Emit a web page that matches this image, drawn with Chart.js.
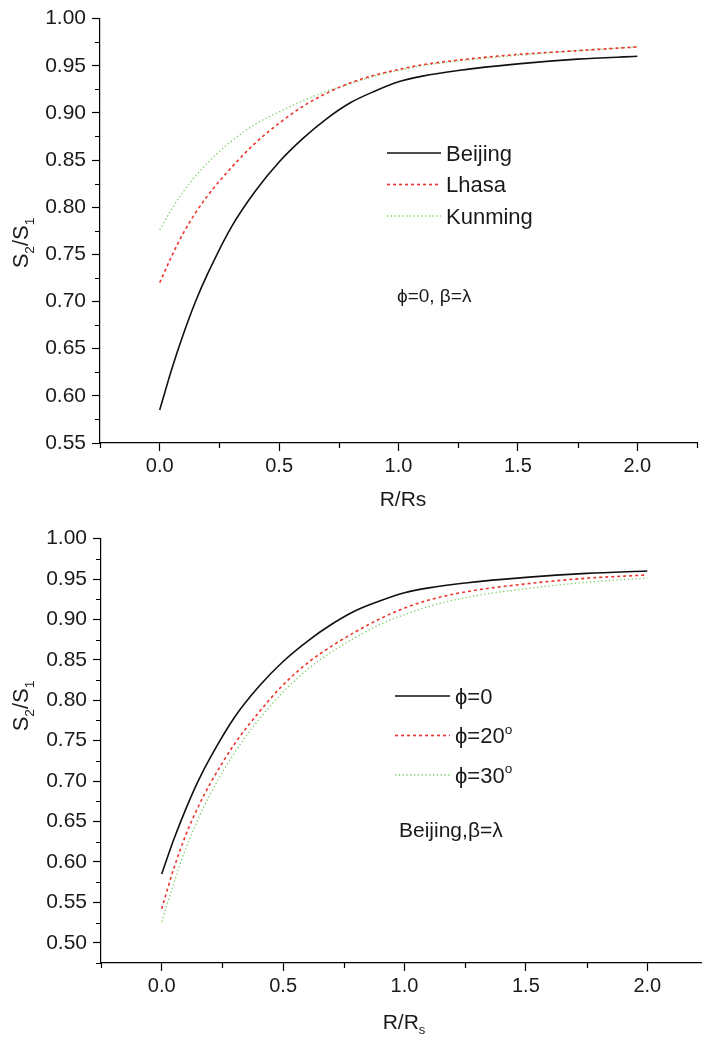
<!DOCTYPE html>
<html>
<head>
<meta charset="utf-8">
<script src="https://cdn.jsdelivr.net/npm/chart.js@4.4.0/dist/chart.umd.min.js"></script>
<style>
    html, body { margin: 0; padding: 0; background: #fff; overflow: hidden; width: 702px; height: 1038px; }
    #top-chart { position: absolute; left: 0; top: 0; }
    #bottom-chart { position: absolute; left: 0; top: 520px; }
</style>
</head>
<body>
<canvas id="top-chart" width="702" height="520"></canvas>
<canvas id="bottom-chart" width="712" height="518"></canvas>
<script>
// R/Rs sample positions
const xValues = [0, 0.05, 0.1, 0.15, 0.2, 0.3, 0.4, 0.5, 0.6, 0.7, 0.8, 0.9, 1.0, 1.1, 1.25, 1.5, 1.75, 2.0];

// top panel: phi=0, beta=lambda
const beijing = [0.585, 0.628, 0.666, 0.700, 0.729, 0.779, 0.817, 0.848, 0.873, 0.894, 0.911, 0.923, 0.933, 0.939, 0.945, 0.952, 0.957, 0.960];
const lhasa   = [0.720, 0.748, 0.773, 0.794, 0.812, 0.842, 0.868, 0.889, 0.907, 0.921, 0.932, 0.940, 0.946, 0.951, 0.956, 0.962, 0.966, 0.970];
const kunming = [0.776, 0.798, 0.817, 0.833, 0.847, 0.870, 0.888, 0.901, 0.913, 0.923, 0.931, 0.939, 0.945, 0.950, 0.955, 0.961, 0.966, 0.970];
const topLabels = ["Beijing", "Lhasa", "Kunming"];

// bottom panel: Beijing, beta=lambda
const phi0  = [0.585, 0.628, 0.666, 0.700, 0.729, 0.779, 0.817, 0.848, 0.873, 0.894, 0.911, 0.923, 0.933, 0.939, 0.945, 0.952, 0.957, 0.960];
const phi20 = [0.542, 0.592, 0.634, 0.668, 0.697, 0.746, 0.785, 0.819, 0.846, 0.867, 0.885, 0.901, 0.914, 0.924, 0.934, 0.944, 0.951, 0.955];
const phi30 = [0.526, 0.574, 0.617, 0.653, 0.684, 0.735, 0.776, 0.810, 0.838, 0.860, 0.878, 0.894, 0.906, 0.916, 0.927, 0.938, 0.946, 0.951];
const bottomLabels = ["ϕ=0", "ϕ=20°", "ϕ=30°"];

const xTicks = [0, 0.5, 1.0, 1.5, 2.0];
const yTicksTop = [0.55, 0.60, 0.65, 0.70, 0.75, 0.80, 0.85, 0.90, 0.95, 1.00];
const yTicksBottom = [0.50, 0.55, 0.60, 0.65, 0.70, 0.75, 0.80, 0.85, 0.90, 0.95, 1.00];

const FONT = "'Liberation Sans', Arial, sans-serif";
const INK = "#1a1a1a";

const lineStyles = [
    { borderColor: "#111", borderWidth: 1.6, borderDash: [] },
    { borderColor: "rgb(236, 52, 42)", borderWidth: 1.6, borderDash: [3, 3] },
    { borderColor: "rgb(120, 205, 100)", borderWidth: 1.3, borderDash: [1.3, 2.5] },
];

// draw text made of pieces, some of them sub- or superscript
function richText(ctx, parts, x, y, size, align) {
    const small = size * 0.62;
    let w = 0;
    parts.forEach(function (p) {
        ctx.font = (p[1] ? small : size) + "px " + FONT;
        w += ctx.measureText(p[0]).width;
    });
    let cx = align === "center" ? x - w / 2 : x;
    ctx.textAlign = "left";
    ctx.textBaseline = "alphabetic";
    parts.forEach(function (p) {
        ctx.font = (p[1] ? small : size) + "px " + FONT;
        let dy = 0;
        if (p[1] === "sub") dy = size * 0.28;
        if (p[1] === "sup") dy = -size * 0.45;
        ctx.fillText(p[0], cx, y + dy);
        cx += ctx.measureText(p[0]).width;
    });
}

function labelParts(label) {
    if (label.endsWith("°")) return [[label.slice(0, -1), ""], ["o", "sup"]];
    return [[label, ""]];
}

function minorValues(majors, min, max) {
    const step = majors[1] - majors[0];
    const out = majors.map(function (v) { return v - step / 2; });
    out.push(majors[majors.length - 1] + step / 2);
    return out.filter(function (v) { return v >= min - 1e-9 && v <= max + 1e-9; });
}

function decorPlugin(opts) {
    return {
        id: "decor",
        afterDraw: function (chart) {
            const ctx = chart.ctx;
            const area = chart.chartArea;
            const xs = chart.scales.x;
            const ys = chart.scales.y;
            ctx.save();

            // minor ticks
            ctx.strokeStyle = "#000";
            ctx.lineWidth = 1.2;
            ctx.beginPath();
            minorValues(opts.yTicks, ys.min, ys.max).forEach(function (v) {
                const py = Math.round(ys.getPixelForValue(v)) + 0.5;
                ctx.moveTo(area.left, py);
                ctx.lineTo(area.left - 5, py);
            });
            minorValues(xTicks, xs.min, xs.max).forEach(function (v) {
                const px = Math.round(xs.getPixelForValue(v)) + 0.5;
                ctx.moveTo(px, area.bottom);
                ctx.lineTo(px, area.bottom + 5);
            });
            ctx.stroke();

            // legend
            chart.data.datasets.forEach(function (ds, i) {
                const y = opts.legend.y0 + i * opts.legend.dy;
                ctx.strokeStyle = ds.borderColor;
                ctx.lineWidth = ds.borderWidth;
                ctx.setLineDash(ds.borderDash);
                ctx.beginPath();
                ctx.moveTo(opts.legend.x0, y);
                ctx.lineTo(opts.legend.x1, y);
                ctx.stroke();
                ctx.setLineDash([]);
                ctx.fillStyle = INK;
                richText(ctx, labelParts(ds.label), opts.legend.x1 + 5, y + 22 * 0.36, 22, "left");
            });

            // note inside the plot
            ctx.fillStyle = INK;
            richText(ctx, [[opts.note.text, ""]], opts.note.x, opts.note.y + opts.note.size * 0.36, opts.note.size, "left");

            // x title
            richText(ctx, opts.xTitle, opts.xTitlePos[0], opts.xTitlePos[1] + 21 * 0.36, 21, "center");

            // y title, rotated
            ctx.translate(opts.yTitlePos[0], opts.yTitlePos[1]);
            ctx.rotate(-Math.PI / 2);
            richText(ctx, [["S", ""], ["2", "sub"], ["/S", ""], ["1", "sub"]], 0, 0, 22, "center");
            ctx.restore();
        },
    };
}

function makeChart(id, series, labels, cfg) {
    const datasets = series.map(function (vals, i) {
        return Object.assign({
            label: labels[i],
            data: xValues.map(function (x, k) { return { x: x, y: vals[k] }; }),
            pointRadius: 0,
            fill: false,
            cubicInterpolationMode: "monotone",
        }, lineStyles[i]);
    });

    return new Chart(document.getElementById(id).getContext("2d"), {
        type: "line",
        data: { datasets: datasets },
        options: {
            responsive: false,
            animation: false,
            layout: { padding: cfg.padding },
            plugins: { legend: { display: false }, tooltip: { enabled: false } },
            scales: {
                x: {
                    type: "linear",
                    min: -0.25,
                    max: 2.25,
                    afterBuildTicks: function (scale) {
                        scale.ticks = xTicks.map(function (v) { return { value: v }; });
                    },
                    afterFit: function (scale) { scale.height = cfg.xHeight; },
                    ticks: {
                        autoSkip: false,
                        maxRotation: 0,
                        padding: 3,
                        color: INK,
                        font: { family: FONT, size: 20 },
                        callback: function (v) { return Number(v).toFixed(1); },
                    },
                    grid: { drawOnChartArea: false, tickLength: 8, tickColor: "#000", tickWidth: 1.2 },
                    border: { color: "#000", width: 1.2 },
                },
                y: {
                    min: cfg.yMin,
                    max: 1.0,
                    afterBuildTicks: function (scale) {
                        scale.ticks = cfg.yTicks.map(function (v) { return { value: v }; });
                    },
                    afterFit: function (scale) { scale.width = cfg.yWidth; },
                    ticks: {
                        autoSkip: false,
                        padding: 6,
                        color: INK,
                        font: { family: FONT, size: 21 },
                        callback: function (v) { return Number(v).toFixed(2); },
                    },
                    grid: { drawOnChartArea: false, tickLength: 8, tickColor: "#000", tickWidth: 1.2 },
                    border: { color: "#000", width: 1.2 },
                },
            },
        },
        plugins: [decorPlugin(cfg)],
    });
}

makeChart("top-chart", [beijing, lhasa, kunming], topLabels, {
    padding: { top: 16, right: 5, bottom: 0, left: 0 },
    xHeight: 77,
    yWidth: 100,
    yMin: 0.55,
    yTicks: yTicksTop,
    legend: { x0: 387, x1: 441, y0: 153, dy: 31.5 },
    note: { text: "ϕ=0, β=λ", x: 397, y: 295, size: 19 },
    xTitle: [["R/Rs", ""]],
    xTitlePos: [403, 498],
    yTitlePos: [28, 243],
});

makeChart("bottom-chart", [phi0, phi20, phi30], bottomLabels, {
    padding: { top: 13, right: 4, bottom: 0, left: 0 },
    xHeight: 75,
    yWidth: 101,
    yMin: 0.475,
    yTicks: yTicksBottom,
    legend: { x0: 395, x1: 450, y0: 176, dy: 39.5 },
    note: { text: "Beijing,β=λ", x: 399, y: 309, size: 21 },
    xTitle: [["R/R", ""], ["s", "sub"]],
    xTitlePos: [404, 501],
    yTitlePos: [28, 186],
});
</script>
</body>
</html>
